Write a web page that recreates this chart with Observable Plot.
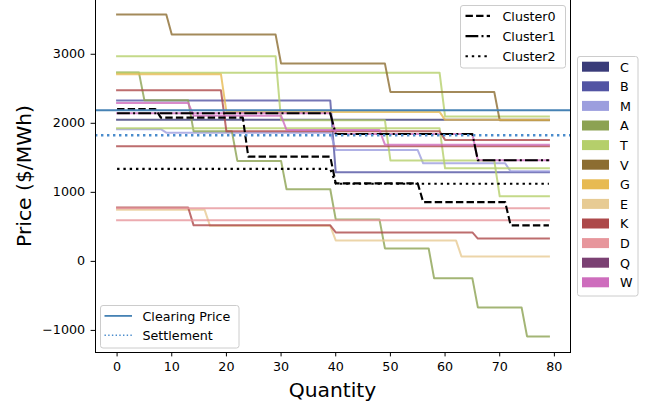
<!DOCTYPE html>
<html><head><meta charset="utf-8">
<script src="https://cdn.jsdelivr.net/npm/d3@7"></script>
<script src="https://cdn.jsdelivr.net/npm/@observablehq/plot@0.6"></script>
<style>
html,body{margin:0;padding:0;background:#fff;}
#chart{position:relative;width:652px;height:406px;overflow:hidden;}
#chart svg{font-family:"DejaVu Sans",sans-serif;}
</style></head><body><div id="chart"></div>
<script>
// ---- data ----
const categories = ["C","B","M","A","T","V","G","E","K","D","Q","W"];
const catColors  = ["#393b79","#5254a3","#9c9ede","#8ca252","#b5cf6b","#8c6d31","#e7ba52","#e7cb94","#ad494a","#e7969c","#7b4173","#ce6dbd"];
const xTicks = [0,10,20,30,40,50,60,70,80];
const yTicks = [-1000,0,1000,2000,3000];
const lastQuantity = 79;
const clearingPrice = 2188;
const settlementPrice = 1826;

// offer curves: [first quantity of step, price]
const stepsC  = [[0,2050]];
const stepsB  = [[0,2330],[40,1290]];
const stepsM  = [[0,1915],[9,1865],[40,1613],[56,1420],[72,1304]];
const stepsA  = [[0,2735],[5,2333],[14,1884],[22,1455],[31,1045],[40,608],[49,188],[58,-246],[66,-667],[75,-1087]];
const stepsT1 = [[0,2971],[30,2043],[50,1463],[70,942]];
const stepsT2 = [[0,2734],[60,2100]];
const stepsT3 = [[0,1928],[60,1348]];
const stepsV  = [[0,3575],[10,3285],[30,2865],[50,2455],[70,2045]];
const stepsG  = [[0,2712],[20,2165],[60,2050]];
const stepsE  = [[0,749],[17,515],[40,304],[63,72]];
const stepsK1 = [[0,2478],[20,1884],[60,1760]];
const stepsK2 = [[0,1667]];
const stepsK3 = [[0,780],[14,522],[40,420],[66,330]];
const stepsD1 = [[0,768]];
const stepsD2 = [[0,594]];
const stepsW1 = [[0,2295],[14,2110],[31,1903],[49,1690]];
const stepsW2 = [[0,2145],[40,1845],[66,1465]];

const clusterNames = ["Cluster0","Cluster1","Cluster2"];
const stepsCluster0 = [[0,2208],[8,2082],[24,1517],[40,1130],[56,859],[72,522]];
const stepsCluster1 = [[0,2145],[40,1845],[66,1465]];
const stepsCluster2 = [[0,1340],[40,1125]];

const offerSeries = [
  ["C",stepsC],["B",stepsB],["M",stepsM],["A",stepsA],
  ["T",stepsT1],["T",stepsT2],["T",stepsT3],["V",stepsV],["G",stepsG],["E",stepsE],
  ["K",stepsK1],["K",stepsK2],["K",stepsK3],["D",stepsD1],["D",stepsD2],
  ["W",stepsW1],["W",stepsW2]
];
const clusterSeries = [stepsCluster0, stepsCluster1, stepsCluster2];
const clusterDash = ["7.4,3.2","12.8,3.2,2,3.2","2.4,3.9"];

// ---- build vertex tables from the step lists ----
function toVertices(steps){
  const out = [];
  steps.forEach(([s,p],i)=>{
    const e = i < steps.length-1 ? steps[i+1][0]-1 : lastQuantity;
    out.push({q:s,p:p});
    if (e !== s) out.push({q:e,p:p});
  });
  return out;
}
const colorOf = c => catColors[categories.indexOf(c)];

const marks = [];
for (const [cat, steps] of offerSeries) {
  marks.push(Plot.line(toVertices(steps), {x:"q", y:"p", stroke: colorOf(cat), strokeWidth:2, strokeOpacity:0.8, strokeLinejoin:"round", strokeLinecap:"square"}));
}
clusterSeries.forEach((steps,i)=>{
  marks.push(Plot.line(toVertices(steps), {x:"q", y:"p", stroke:"black", strokeWidth:2.1, strokeDasharray:clusterDash[i], strokeLinecap:"butt"}));
});
marks.push(Plot.ruleY([clearingPrice], {stroke:"#4682b4", strokeWidth:2}));
marks.push(Plot.ruleY([settlementPrice], {stroke:"#4a8ccc", strokeWidth:2.4, strokeDasharray:"2.4,3.6"}));
marks.push(Plot.frame({stroke:"black", strokeWidth:1}));

const svg = Plot.plot({
  width:652, height:406,
  marginLeft:95, marginRight:82, marginTop:-2, marginBottom:54,
  x:{domain:[-3.95,82.95], ticks:xTicks, tickFormat:d3.format("d"), tickSize:4.4, tickPadding:5, label:null},
  y:{domain:[-1320,3808], ticks:yTicks, tickFormat:d3.format("d"), tickSize:4.4, tickPadding:6, label:null},
  style:{fontFamily:"DejaVu Sans", fontSize:"12.7px", background:"white", color:"black", overflow:"visible"},
  marks
});
document.getElementById("chart").appendChild(svg);

// ---- labels & legends ----
const s = d3.select(svg);
const F = "DejaVu Sans";
s.append("text").attr("transform","translate(30.5,176) rotate(-90)")
  .attr("text-anchor","middle").attr("font-family",F).attr("font-size",20.3).attr("fill","black").text("Price ($/MWh)");
s.append("text").attr("x",332.5).attr("y",396.5)
  .attr("text-anchor","middle").attr("font-family",F).attr("font-size",20.3).attr("fill","black").text("Quantity");

function label(x,y,t){
  s.append("text").attr("x",x).attr("y",y).attr("text-anchor","start").attr("font-family",F)
    .attr("font-size",12.7).attr("fill","black").text(t);
}
function box(x,y,w,h){
  s.append("rect").attr("x",x).attr("y",y).attr("width",w).attr("height",h).attr("rx",2.5)
    .attr("fill","white").attr("fill-opacity",0.8).attr("stroke","#cccccc").attr("stroke-width",1);
}
// cluster legend
box(460.5,5.5,105,62.5);
clusterNames.forEach((n,i)=>{
  const y = 15.9 + i*20.2;
  s.append("line").attr("x1",465.5).attr("x2",490).attr("y1",y).attr("y2",y)
    .attr("stroke","black").attr("stroke-width",2.1).attr("stroke-dasharray",clusterDash[i]);
  label(502.5, y+4.8, n);
});
// price legend
box(100.5,305.5,138.5,42.5);
[["Clearing Price","#4682b4",null],["Settlement","#4a8ccc","1.4,2.3"]].forEach(([n,c,da],i)=>{
  const y = 315.9 + i*19.3;
  const l = s.append("line").attr("x1",104.5).attr("x2",132).attr("y1",y).attr("y2",y)
    .attr("stroke",c).attr("stroke-width",da?1.4:1.8);
  if (da) l.attr("stroke-dasharray",da);
  label(142.5, y+4.8, n);
});
// category legend
box(577.5,56.5,60.5,239.5);
categories.forEach((c,i)=>{
  const y = 66.7 + i*19.6;
  s.append("rect").attr("x",582).attr("y",y-5).attr("width",27).attr("height",10).attr("fill",catColors[i]);
  label(620, y+4.8, c);
});
</script></body></html>
